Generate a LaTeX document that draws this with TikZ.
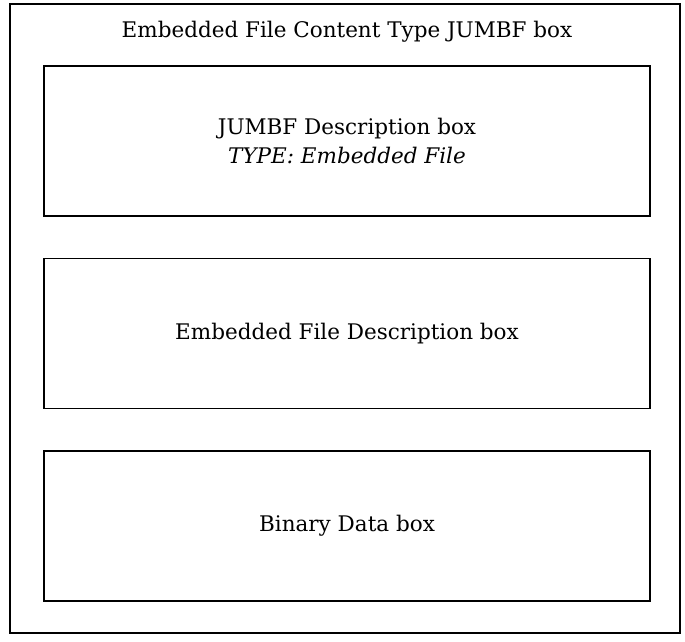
\documentclass[tikz,border=0pt]{standalone}
\usepackage{fontspec}
\setmainfont{DejaVu Serif}
\usetikzlibrary{positioning}
\tikzstyle{outer} = [rectangle, draw, line width=1.5pt, minimum width=670pt, minimum height=629pt, inner sep=0pt]
\tikzstyle{block} = [rectangle, draw, line width=1.5pt, minimum width=606pt, minimum height=150pt,
    text centered, align=center, font=\fontsize{21.5}{29}\selectfont]

\begin{document}
\begin{tikzpicture}[x=1pt, y=-1pt, node distance=42pt]
		\useasboundingbox (0,0) rectangle (685,641);
		\node [outer] (jumbf) at (345,318.5) {};
		\node [font=\fontsize{21.5}{29}\selectfont] (title) at (347,32) {Embedded File Content Type JUMBF box};
		
		\node [block] (desc) at (347,141) {JUMBF Description box\\ \textit{TYPE: Embedded File}};
		\node [block, below=41pt of desc] (efile) {Embedded File Description box};
		\node [block, below=41pt of efile] (bin) {Binary Data box};
\end{tikzpicture}
\end{document}
